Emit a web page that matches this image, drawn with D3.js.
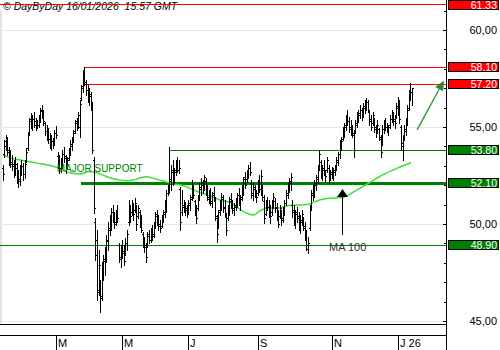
<!DOCTYPE html>
<html><head><meta charset="utf-8">
<script src="https://cdn.jsdelivr.net/npm/d3@7"></script>
<style>
html,body{margin:0;padding:0;background:#fff;}
svg{display:block;font-family:"Liberation Sans",Arial,sans-serif;}
</style></head><body>
<svg id="c" width="500" height="350"></svg>
<script>
// ---- data (daily OHLC, one entry per trading day) ----
const highs=[
53.04,54.33,54.59,54.48,53.97,53.81,53.56,53.30,53.45,53.14,
52.78,53.04,53.30,53.14,53.30,53.92,54.74,55.47,55.72,55.62,
55.78,55.47,55.36,55.62,55.98,56.13,55.88,55.26,55.10,54.95,
54.69,54.59,54.43,54.85,55.05,53.71,53.56,53.40,53.81,53.97,
53.56,53.45,53.92,54.33,54.48,54.85,55.36,55.47,55.78,56.39,
57.16,57.94,58.09,57.42,57.16,57.01,56.80,56.29,53.45,50.31,
49.69,48.66,47.11,48.04,48.40,48.81,49.43,50.10,50.46,50.82,
50.98,50.62,50.72,50.98,49.02,48.92,49.18,48.92,49.28,49.69,
51.24,50.98,51.24,51.08,51.34,50.98,50.98,50.72,50.46,49.59,
49.33,49.02,49.59,49.69,49.79,49.95,50.10,50.62,50.72,50.46,
50.21,50.46,50.72,51.24,51.75,52.01,53.97,53.04,53.30,52.89,
53.30,53.45,53.30,51.91,51.75,51.24,51.13,50.98,51.24,51.49,
52.27,52.01,51.24,50.98,51.49,52.11,52.37,52.27,52.53,52.37,
52.01,51.75,51.85,51.65,51.91,51.39,50.46,50.72,51.24,51.60,
51.49,51.24,50.57,50.98,51.39,51.60,51.24,51.08,51.34,51.60,
51.85,51.49,52.01,52.42,52.68,52.78,53.04,53.19,52.27,52.11,
52.01,51.75,52.27,52.53,52.78,52.01,51.49,51.24,51.39,51.24,
50.98,51.24,51.60,51.34,51.08,50.72,50.98,50.72,50.88,51.24,
51.75,52.11,52.37,52.63,51.24,50.98,50.72,50.88,50.62,50.46,
50.72,50.36,50.10,49.69,49.33,50.98,51.75,52.01,52.27,52.53,
53.04,53.81,53.30,53.04,53.30,52.78,53.45,53.04,52.78,52.94,
52.89,53.04,53.45,53.71,54.33,54.48,55.00,55.21,55.62,55.88,
55.52,55.36,55.10,54.85,55.36,55.78,55.88,56.13,55.98,56.24,
56.39,56.49,56.39,55.88,55.62,55.78,55.47,55.10,55.36,54.95,
54.59,55.10,55.36,55.47,55.21,55.10,55.62,55.88,55.78,55.62,
56.24,56.55,56.39,55.10,54.59,55.10,55.47,56.13,56.91,57.27,
57.01];
const lows=[
52.27,53.45,53.81,53.56,53.04,52.94,52.78,52.42,52.53,52.11,
51.91,52.01,52.53,52.27,52.37,53.19,53.81,54.59,54.95,54.85,
55.00,54.85,54.95,55.00,55.26,55.47,55.10,54.59,54.33,54.18,
53.92,53.81,53.92,54.07,54.43,52.89,52.63,52.68,52.89,53.19,
52.63,52.94,53.30,53.56,53.81,54.23,54.69,54.85,54.95,54.48,
56.39,56.80,57.16,56.65,56.29,56.13,55.88,53.66,50.57,48.14,
46.08,46.34,45.46,46.08,47.11,47.37,48.04,48.66,49.43,49.69,
50.10,49.79,49.95,50.10,48.04,47.78,48.25,47.89,48.40,48.66,
49.95,50.10,50.46,50.21,50.62,49.69,50.31,49.85,49.59,48.81,
48.56,48.04,48.81,49.02,49.07,49.18,49.33,49.79,49.95,49.69,
49.59,49.85,50.10,50.36,50.62,51.49,51.60,51.75,52.01,52.11,
52.53,52.68,52.63,49.69,50.46,50.62,50.46,50.36,50.57,50.72,
51.24,51.34,50.46,50.05,50.72,51.24,51.49,51.60,51.75,51.49,
51.24,51.08,50.98,50.88,51.24,50.21,49.07,49.79,50.46,50.72,
50.62,50.36,49.43,50.21,50.46,50.82,50.57,50.46,50.72,50.88,
50.98,50.72,51.24,51.49,51.85,52.16,52.37,52.53,51.34,51.24,
51.39,51.13,51.49,51.65,51.49,51.24,50.05,50.46,50.72,50.36,
50.05,50.46,50.82,50.62,50.21,49.85,50.31,49.95,50.10,50.46,
50.98,51.34,51.65,51.75,50.36,49.95,49.79,50.10,49.69,49.54,
49.95,49.69,49.18,48.66,48.51,49.69,50.72,51.24,51.39,51.75,
52.11,52.78,52.37,52.27,52.53,52.16,52.68,52.11,52.27,52.37,
52.27,52.53,52.78,53.04,53.40,53.81,54.33,54.48,54.85,55.10,
54.74,54.59,54.48,53.45,54.69,55.00,55.26,55.47,55.36,55.52,
55.72,55.88,55.78,55.10,54.85,55.10,54.74,54.48,54.69,54.33,
53.45,54.07,54.69,54.85,54.74,54.59,54.95,55.26,55.10,54.95,
55.47,55.62,55.21,53.81,53.30,54.33,54.59,55.10,55.88,56.39,
56.13];
const opens=[
52.90,53.60,54.30,54.20,53.80,53.40,53.20,53.10,52.80,52.90,
52.50,52.30,52.80,53.00,52.60,53.30,53.90,54.70,55.40,55.30,
55.40,55.30,55.20,55.10,55.50,55.90,55.70,55.20,54.80,54.50,
54.40,54.00,54.30,54.20,54.70,53.50,53.20,52.90,53.10,53.60,
53.40,53.00,53.40,53.80,54.00,54.40,54.80,55.30,55.10,55.00,
56.50,57.10,57.90,57.20,56.90,56.40,56.60,56.00,53.30,50.10,
49.20,46.60,46.90,46.30,47.70,48.20,48.40,49.10,49.70,50.00,
50.60,50.40,50.10,50.50,48.90,48.20,48.70,48.60,48.50,49.00,
50.10,50.80,50.60,50.90,50.70,50.90,50.40,50.60,50.20,49.50,
49.10,48.90,48.90,49.50,49.20,49.70,49.50,50.00,50.50,50.20,
50.00,49.90,50.40,50.60,51.00,51.60,51.90,52.30,52.70,52.30,
52.80,53.10,52.80,51.80,50.60,51.00,50.70,50.80,50.60,51.00,
51.40,51.90,51.20,50.80,50.80,51.40,51.80,52.00,51.90,52.20,
51.80,51.30,51.60,51.10,51.50,51.20,50.30,49.90,50.70,51.00,
51.30,50.90,50.40,50.30,50.70,51.30,51.10,50.70,50.90,51.20,
51.50,51.20,51.30,51.80,52.40,52.30,52.50,52.90,52.10,51.50,
51.80,51.60,51.60,52.20,51.80,51.90,51.20,50.50,51.00,50.90,
50.70,50.60,51.00,51.20,50.90,50.50,50.40,50.60,50.30,50.70,
51.10,51.60,51.80,52.10,51.00,50.70,50.10,50.60,50.40,49.80,
50.10,50.30,49.80,49.50,48.70,49.80,50.90,51.60,51.70,52.00,
52.30,52.90,53.20,52.50,52.80,52.70,52.80,52.90,52.50,52.70,
52.50,52.70,53.00,53.20,53.60,54.00,54.40,54.80,55.00,55.50,
55.30,55.00,54.90,54.60,54.80,55.10,55.50,55.60,55.90,55.70,
56.00,56.10,56.30,55.80,55.40,55.20,55.40,55.00,54.80,54.90,
54.40,54.10,54.90,55.20,55.00,54.90,55.10,55.40,55.70,55.40,
55.60,56.00,56.20,55.00,54.20,54.50,54.80,55.30,56.00,56.60,
56.80];
const closes=[
52.60,54.00,54.10,53.70,53.30,53.10,53.00,52.70,53.10,52.40,
52.20,52.80,53.00,52.60,53.10,53.70,54.60,55.30,55.20,55.40,
55.10,55.20,55.10,55.50,55.80,55.60,55.30,54.80,54.50,54.40,
54.10,54.30,54.10,54.70,54.60,53.10,52.90,53.20,53.60,53.50,
52.90,53.30,53.80,54.10,54.30,54.70,55.20,55.10,55.60,56.20,
57.00,57.80,57.30,56.90,56.50,56.70,56.10,53.80,50.80,48.40,
46.50,47.90,46.20,47.80,48.10,48.50,49.20,49.80,50.10,50.60,
50.30,50.00,50.60,50.30,48.30,48.60,48.50,48.10,49.00,49.50,
50.90,50.40,51.00,50.50,51.10,50.00,50.80,50.10,49.70,49.00,
48.80,48.30,49.40,49.20,49.60,49.40,49.90,50.40,50.20,49.90,
49.80,50.30,50.50,51.00,51.60,51.80,52.20,52.80,52.30,52.70,
53.10,52.80,52.90,50.10,50.90,50.80,50.70,50.50,51.10,51.30,
52.00,51.50,50.70,50.30,51.30,51.90,52.10,51.80,52.40,51.70,
51.40,51.50,51.20,51.60,51.40,50.40,49.50,50.60,51.10,51.40,
50.80,50.50,49.70,50.80,51.20,51.00,50.80,51.00,51.20,51.50,
51.10,51.40,51.90,52.30,52.00,52.60,52.90,52.70,51.60,51.90,
51.60,51.40,52.10,51.80,52.50,51.40,50.30,51.00,50.90,50.60,
50.40,51.10,51.40,50.80,50.40,50.00,50.80,50.20,50.70,51.10,
51.50,51.90,52.20,52.40,50.60,50.20,50.50,50.30,49.90,50.20,
50.50,49.90,49.40,48.90,49.00,50.70,51.50,51.80,52.10,52.40,
52.90,53.60,52.60,52.90,52.70,52.50,53.30,52.40,52.60,52.50,
52.80,52.90,53.30,53.60,54.10,54.30,54.90,55.10,55.40,55.30,
54.90,54.80,54.70,53.80,55.20,55.60,55.70,55.90,55.60,56.10,
56.20,56.30,55.90,55.30,55.00,55.60,54.90,54.70,55.10,54.50,
53.70,54.90,55.20,55.00,54.90,55.00,55.40,55.70,55.30,55.20,
56.10,56.20,55.40,54.00,54.50,54.90,55.30,55.90,56.60,56.80,
57.00];
// 100-day moving average (bar index, value)
const maIdx=[0,4,11,19,25,34,44,49,55,59,66,72,79,83,87,91,98,104,107,113,118,124,130,138,145,151,159,164,168,175,180,194,201,210,216,224,232,241,250,259];
const maVal=[53.59,53.42,53.30,53.18,53.09,52.92,52.61,52.58,52.70,52.65,52.44,52.30,52.23,52.27,52.38,52.44,52.30,52.16,52.09,52.01,51.86,51.66,51.49,51.24,51.08,50.72,50.46,50.72,50.82,50.82,50.93,51.02,51.24,51.34,51.38,51.72,52.10,52.53,52.87,53.16];
const monthLabels=["M","M","J","S","N","J 26"];
const monthTickIdx=[34,76,118,162,209,251];
const yMajorTicks=[45,50,55,60];
const yMinorTicks=[45,46,47,48,49,50,51,52,53,54,55,56,57,58,59,60,61];
const levelValues=[61.33,58.10,57.20,53.80,52.10,48.90];
const levelKinds=["resistance","resistance","resistance","support","support","support"];
const levelFromIdx=[-2,51.4,52.7,106,49.5,-2];
const titleText="© DayByDay 16/01/2026  15:57 GMT";
const supportText="MAJOR SUPPORT";
const supportAt=[34.1,52.66];
const maText="MA 100";
const maArrow=[215.4,49.43,51.80];
const maTextAt=[207,48.61];
const trendArrow=[262.9,54.85,280,57.40];

// ---- drawing ----
const svg=d3.select("#c");
const W=500,H=350, axisX=446.5, plotBottom=324.5, axisBand=335.5;
const x=d3.scaleLinear().domain([0,260]).range([3,412.5]);
const y=d3.scaleLinear().domain([45,60]).range([321,30]);
const cy=v=>Math.round(y(v))+0.5;
const cx=i=>Math.floor(x(i))+0.5;
const fmt=v=>d3.format(".2f")(v).replace(".",",");
const colors={resistance:"#ff0000",support:"#008000"};

svg.append("rect").attr("width",W).attr("height",H).attr("fill","#fff");
svg.append("rect").attr("x",0).attr("y",10).attr("width",2).attr("height",314).attr("fill","#e2e2e2");

// gridlines
svg.append("g").selectAll("line").data(yMajorTicks).join("line")
  .attr("x1",0).attr("x2",axisX).attr("y1",d=>cy(d)).attr("y2",d=>cy(d))
  .attr("stroke","#d4f5d0").attr("stroke-width",1).attr("shape-rendering","crispEdges");

// title
svg.append("text").attr("x",3).attr("y",10).attr("font-size",10.5).attr("font-style","italic")
  .style("white-space","pre").attr("fill","#000").text(titleText);

// level lines
levelValues.forEach((v,k)=>{
  const thick = Math.abs(v-52.10)<1e-6;
  svg.append("line").attr("x1",Math.max(0,x(levelFromIdx[k]))).attr("x2",axisX)
    .attr("y1",thick?Math.round(y(v)):cy(v)).attr("y2",thick?Math.round(y(v)):cy(v))
    .attr("stroke",colors[levelKinds[k]]).attr("stroke-width",thick?3:1)
    .attr("shape-rendering","crispEdges");
});

// bottom lines
[plotBottom,axisBand].forEach(yy=>svg.append("line").attr("x1",0).attr("x2",axisX).attr("y1",yy).attr("y2",yy)
  .attr("stroke","#000").attr("shape-rendering","crispEdges"));

// MA line
const maPts=maIdx.map((d,i)=>[x(d),y(maVal[i])]);
svg.append("path").attr("d",d3.line().curve(d3.curveMonotoneX)(maPts))
  .attr("fill","none").attr("stroke","#38e038").attr("stroke-width",1.5);

// OHLC bars
const n=Math.min(highs.length,lows.length,opens.length,closes.length);
const bars=svg.append("g").attr("shape-rendering","crispEdges").attr("fill","#000");
for(let i=0;i<n;i++){
  const xi=Math.floor(x(i));
  const yh=Math.round(y(highs[i])), yl=Math.round(y(lows[i]));
  bars.append("rect").attr("x",xi).attr("y",yh).attr("width",1).attr("height",Math.max(1,yl-yh+1));
  bars.append("rect").attr("x",xi-1).attr("y",Math.round(y(opens[i]))).attr("width",1).attr("height",1);
  bars.append("rect").attr("x",xi+1).attr("y",Math.round(y(closes[i]))).attr("width",1).attr("height",1);
}

// MAJOR SUPPORT label
svg.append("text").attr("x",x(supportAt[0])).attr("y",y(supportAt[1])).attr("font-size",10)
  .attr("fill","#008000").text(supportText);

// MA 100 arrow
const ax=cx(maArrow[0]);
svg.append("line").attr("x1",ax).attr("x2",ax).attr("y1",y(maArrow[1])).attr("y2",y(maArrow[2])+7)
  .attr("stroke","#000").attr("stroke-width",1);
svg.append("path").attr("d",`M${ax},${y(maArrow[2])} L${ax-5.5},${y(maArrow[2])+8} L${ax+5.5},${y(maArrow[2])+8} Z`).attr("fill","#000");
svg.append("text").attr("x",x(maTextAt[0])).attr("y",y(maTextAt[1])).attr("font-size",11)
  .attr("fill","#333").text(maText);

// trend arrow
{
  const x1=x(trendArrow[0]),y1=y(trendArrow[1]),x2=x(trendArrow[2]),y2=y(trendArrow[3]);
  const ang=Math.atan2(y2-y1,x2-x1), L=10, Wd=4.5;
  const bx=x2-L*Math.cos(ang), by=y2-L*Math.sin(ang);
  svg.append("line").attr("x1",x1).attr("y1",y1).attr("x2",bx).attr("y2",by)
    .attr("stroke","#2f8f2f").attr("stroke-width",1.3);
  const px=-Math.sin(ang)*Wd, py=Math.cos(ang)*Wd;
  svg.append("path").attr("d",`M${x2},${y2} L${bx+px},${by+py} L${bx-px},${by-py} Z`).attr("fill","#2a882a");
}

// right axis
svg.append("line").attr("x1",axisX).attr("x2",axisX).attr("y1",0).attr("y2",H)
  .attr("stroke","#000").attr("shape-rendering","crispEdges");
svg.append("g").selectAll("line").data(yMinorTicks).join("line")
  .attr("x1",d=>yMajorTicks.includes(d)?axisX-4:axisX-2.5).attr("x2",axisX)
  .attr("y1",d=>cy(d)).attr("y2",d=>cy(d)).attr("stroke","#000").attr("shape-rendering","crispEdges");
svg.append("g").selectAll("text").data(yMajorTicks).join("text")
  .attr("x",497).attr("y",d=>y(d)+4).attr("text-anchor","end").attr("font-size",11)
  .attr("fill","#000").text(fmt);

// level boxes
const lb=svg.append("g");
levelValues.forEach((v,k)=>{
  const top=Math.max(0,Math.round(y(v)-5));
  lb.append("rect").attr("x",448.5).attr("y",top+0.5).attr("width",50).attr("height",9)
    .attr("fill",colors[levelKinds[k]]).attr("stroke","#000").attr("stroke-width",1).attr("shape-rendering","crispEdges");
  lb.append("text").attr("x",497).attr("y",top+9).attr("text-anchor","end").attr("font-size",10.5)
    .attr("fill","#fff").text(v.toFixed(2));
});

// month axis
const mt=svg.append("g");
monthTickIdx.forEach((d,k)=>{
  const xx=cx(d);
  mt.append("line").attr("x1",xx).attr("x2",xx).attr("y1",axisBand).attr("y2",H)
    .attr("stroke","#000").attr("shape-rendering","crispEdges");
  mt.append("text").attr("x",xx+1.5).attr("y",347).attr("font-size",11).attr("fill","#000").text(monthLabels[k]);
});
</script></body></html>
